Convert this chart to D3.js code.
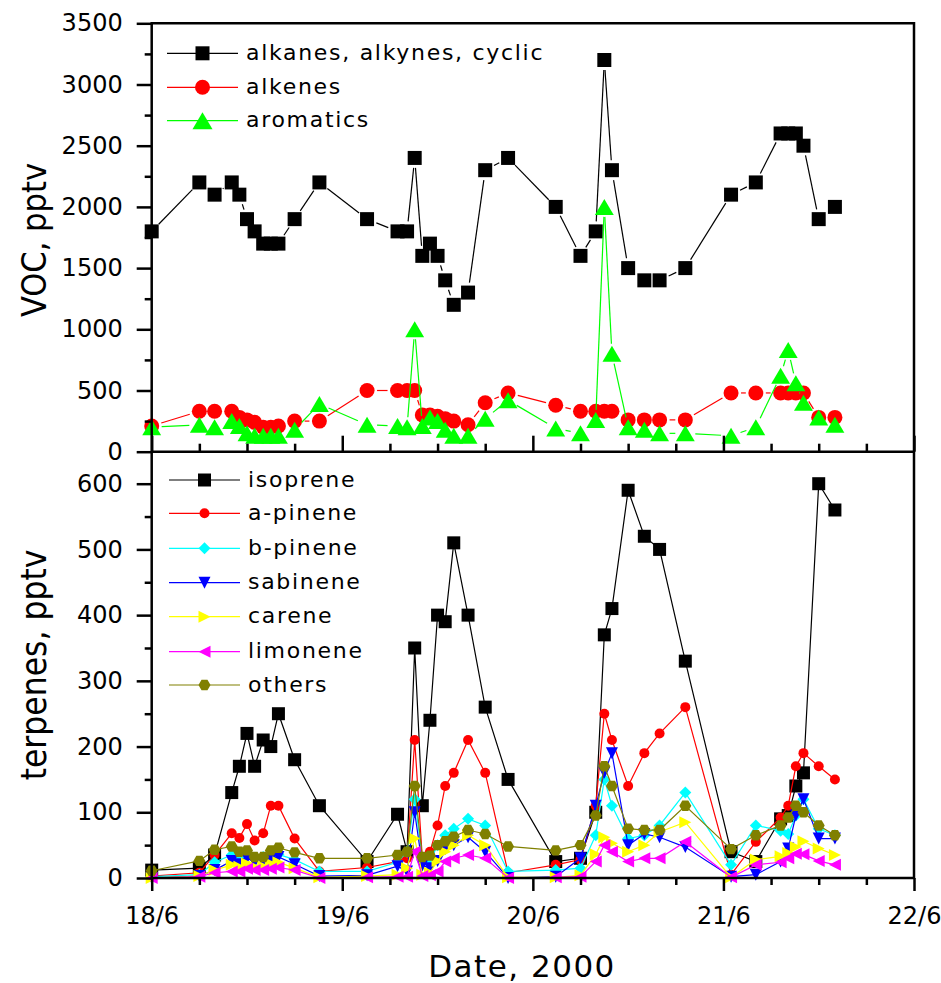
<!DOCTYPE html>
<html><head><meta charset="utf-8">
<script src="https://cdn.jsdelivr.net/npm/d3@7"></script>
<style>body{margin:0;background:#fff} svg{display:block}</style>
</head><body>
<script>
// ---------- data ----------
const days = [18.00, 18.25, 18.33, 18.42, 18.46, 18.50, 18.54, 18.585, 18.625, 18.665, 18.75, 18.88, 19.13, 19.29, 19.34, 19.38, 19.42, 19.46, 19.50, 19.54, 19.585, 19.66, 19.75, 19.87, 20.12, 20.25, 20.33, 20.375, 20.415, 20.50, 20.585, 20.665, 20.80, 21.04, 21.17, 21.30, 21.34, 21.38, 21.42, 21.50, 21.585];

const alkanes   = [1800, 2200, 2100, 2200, 2100, 1900, 1800, 1700, 1700, 1700, 1900, 2200, 1900, 1800, 1800, 2400, 1600, 1700, 1600, 1400, 1200, 1300, 2300, 2400, 2000, 1600, 1800, 3200, 2300, 1500, 1400, 1400, 1500, 2100, 2200, 2600, 2600, 2600, 2500, 1900, 2000];
const alkenes   = [210, 330, 330, 330, 280, 260, 240, 200, 200, 210, 250, 250, 500, 500, 500, 500, 300, 300, 290, 270, 250, 220, 400, 480, 380, 330, 330, 330, 330, 260, 260, 260, 260, 480, 480, 480, 480, 480, 480, 280, 280];
const aromatics = [200, 220, 200, 250, 210, 150, 130, 130, 130, 130, 180, 390, 220, 210, 200, 1000, 210, 280, 250, 180, 130, 130, 270, 420, 190, 150, 260, 2000, 800, 200, 180, 150, 150, 130, 200, 620, 830, 560, 400, 280, 220];

const isoprene = [12, 15, 35, 130, 170, 220, 170, 210, 200, 250, 180, 110, 25, 97, 40, 350, 110, 240, 400, 390, 510, 400, 260, 150, 25, 30, 100, 370, 410, 590, 520, 500, 330, 40, 25, 90, 95, 140, 160, 600, 560];
const aPinene  = [3, 8, 35, 68, 61, 82, 57, 68, 110, 110, 60, 10, 16, 25, 30, 210, 30, 40, 80, 140, 160, 210, 160, 8, 20, 28, 110, 250, 210, 140, 190, 220, 260, 5, 55, 92, 110, 170, 190, 170, 150];
const bPinene  = [2, 5, 24, 35, 30, 36, 30, 32, 36, 36, 28, 10, 10, 24, 40, 120, 30, 25, 50, 65, 75, 90, 80, 10, 12, 15, 65, 150, 110, 60, 65, 80, 130, 20, 80, 72, 67, 95, 120, 75, 65];
const sabinene = [0, 3, 12, 26, 21, 30, 24, 24, 29, 32, 21, 3, 4, 18, 10, 100, 19, 15, 26, 44, 50, 62, 40, 0, 2, 30, 110, 160, 190, 50, 67, 62, 47, 2, 5, 25, 45, 95, 120, 60, 60];
const carene   = [0, 3, 12, 20, 17, 22, 17, 18, 22, 24, 15, 1, 3, 5, 15, 60, 5, 8, 26, 40, 50, 65, 50, 1, 1, 4, 36, 62, 53, 40, 50, 70, 85, 1, 28, 33, 38, 47, 56, 45, 35];
const limonene = [0, 2, 8, 10, 10, 14, 12, 12, 14, 16, 12, 0, 1, 2, 2, 40, 3, 4, 10, 25, 30, 35, 30, 0, 1, 2, 25, 50, 40, 25, 30, 30, 55, 1, 20, 24, 30, 37, 36, 26, 20];
const others   = [11, 26, 43, 48, 40, 42, 32, 32, 42, 46, 39, 30, 30, 35, 40, 140, 32, 34, 50, 56, 63, 73, 67, 48, 42, 50, 95, 170, 140, 75, 73, 73, 110, 44, 65, 80, 92, 110, 100, 80, 65];

const topNames = ["alkanes, alkynes, cyclic", "alkenes", "aromatics"];
const botNames = ["isoprene", "a-pinene", "b-pinene", "sabinene", "carene", "limonene", "others"];
const vocTicks = [0, 500, 1000, 1500, 2000, 2500, 3000, 3500];
const terpTicks = [0, 100, 200, 300, 400, 500, 600];

// ---------- layout ----------
const W = 941, H = 983;
const X0 = 151.7, X1 = 914;
const TOP0 = 23.3, MID = 451.7, BOT = 878;
const tickFont = "'DejaVu Sans', Verdana, sans-serif";

const svg = d3.select("body").append("svg").attr("width", W).attr("height", H);

const toDate = d => new Date(2000, 5, Math.floor(d), 0, 0, 0, Math.round((d - Math.floor(d)) * 86400000));
const x = d3.scaleTime().domain([new Date(2000, 5, 18), new Date(2000, 5, 22)]).range([X0, X1]);
const y1 = d3.scaleLinear().domain([0, 3500]).range([MID, TOP0]);
const y2 = d3.scaleLinear().domain([0, 600]).range([BOT, 483.7]);

// ---------- marker shapes ----------
function shape(type, s) {
  const h = s / 2;
  switch (type) {
    case "square": return `M${-h},${-h}H${h}V${h}H${-h}Z`;
    case "circle": return `M${h},0A${h},${h} 0 1,1 ${-h},0A${h},${h} 0 1,1 ${h},0Z`;
    case "up": { const w = s * 1.18 / 2, t = s / 2; return `M0,${-t}L${w},${t}L${-w},${t}Z`; }
    case "down": return `M${-h},${-h}L${h},${-h}L0,${h}Z`;
    case "right": return `M${-h},${-h}L${h},0L${-h},${h}Z`;
    case "left": return `M${h},${-h}L${-h},0L${h},${h}Z`;
    case "diamond": return `M0,${-h}L${h},0L0,${h}L${-h},0Z`;
    case "hex": {
      let p = [];
      for (let i = 0; i < 6; i++) { const a = Math.PI / 3 * i; p.push([h * Math.cos(a), h * Math.sin(a)]); }
      return "M" + p.map(q => q[0].toFixed(2) + "," + q[1].toFixed(2)).join("L") + "Z";
    }
  }
}

const topSeries = [
  { name: topNames[0], vals: alkanes,   color: "#000000", shape: "square", size: 14 },
  { name: topNames[1], vals: alkenes,   color: "#ff0000", shape: "circle", size: 15 },
  { name: topNames[2], vals: aromatics, color: "#00ff00", shape: "up",     size: 16 }
];
const botSeries = [
  { name: botNames[0], vals: isoprene, color: "#000000", shape: "square",  size: 13 },
  { name: botNames[1], vals: aPinene,  color: "#ff0000", shape: "circle",  size: 10 },
  { name: botNames[2], vals: bPinene,  color: "#00ffff", shape: "diamond", size: 12 },
  { name: botNames[3], vals: sabinene, color: "#0000ff", shape: "down",    size: 12 },
  { name: botNames[4], vals: carene,   color: "#ffff00", shape: "right",   size: 12 },
  { name: botNames[5], vals: limonene, color: "#ff00ff", shape: "left",    size: 12 },
  { name: botNames[6], vals: others,   color: "#808000", shape: "hex",     size: 12 }
];

// ---------- series ----------
const gTop = svg.append("g");
topSeries.forEach(s => {
  const pts = days.map((d, i) => [x(toDate(d)), y1(s.vals[i])]);
  const gap = 10;
  const segs = [];
  for (let i = 0; i < pts.length - 1; i++) {
    const [ax, ay] = pts[i], [bx, by] = pts[i + 1];
    const dx = bx - ax, dy = by - ay, L = Math.hypot(dx, dy);
    if (L > 2 * gap + 1) {
      const ux = dx / L, uy = dy / L;
      segs.push([ax + ux * gap, ay + uy * gap, bx - ux * gap, by - uy * gap]);
    }
  }
  gTop.append("g").selectAll("line").data(segs).join("line")
    .attr("x1", d => d[0]).attr("y1", d => d[1]).attr("x2", d => d[2]).attr("y2", d => d[3])
    .attr("stroke", s.color).attr("stroke-width", 1.2);
  gTop.append("g").selectAll("path").data(pts).join("path")
    .attr("transform", d => `translate(${d[0]},${d[1]})`)
    .attr("d", shape(s.shape, s.size)).attr("fill", s.color);
});

const gBot = svg.append("g");
botSeries.forEach(s => {
  const data = days.map((d, i) => ({ t: toDate(d), v: s.vals[i] }));
  gBot.append("path").datum(data)
    .attr("d", d3.line().x(d => x(d.t)).y(d => y2(d.v)))
    .attr("fill", "none").attr("stroke", s.color).attr("stroke-width", 1.2);
  gBot.append("g").selectAll("path").data(data).join("path")
    .attr("transform", d => `translate(${x(d.t)},${y2(d.v)})`)
    .attr("d", shape(s.shape, s.size)).attr("fill", s.color);
});

// ---------- legends ----------
function legend(series, rows, lx0, lx1, tx) {
  const g = svg.append("g");
  series.forEach((s, i) => {
    const yy = rows[i];
    g.append("line").attr("x1", lx0).attr("x2", lx1).attr("y1", yy).attr("y2", yy)
      .attr("stroke", s.color).attr("stroke-width", 1.2);
    g.append("path").attr("transform", `translate(${(lx0 + lx1) / 2},${yy})`)
      .attr("d", shape(s.shape, s.size + (s.shape === "up" ? 1 : 0))).attr("fill", s.color);
    g.append("text").attr("x", tx).attr("y", yy).attr("dy", "0.3em")
      .attr("font-family", tickFont).attr("font-size", 22).attr("letter-spacing", 1.7)
      .attr("fill", "#000").text(s.name);
  });
}
legend(topSeries, [53.3, 87.3, 120.7], 167, 238, 246);
legend(botSeries, [480, 513.3, 548.3, 582.7, 616.7, 651.7, 685], 169, 240, 248);

// ---------- axes ----------
function styleAxis(g) {
  g.select(".domain").remove();
  g.selectAll(".tick line").attr("stroke", "#000").attr("stroke-width", 2.5);
  g.selectAll(".tick text").attr("font-family", tickFont).attr("font-size", 24).attr("fill", "#000");
}
// top panel y axis
svg.append("g").attr("transform", `translate(${X0},0)`)
  .call(d3.axisLeft(y1).tickValues(vocTicks).tickSize(15).tickPadding(14).tickFormat(d3.format("d"))).call(styleAxis);
svg.append("g").attr("transform", `translate(${X0},0)`)
  .call(d3.axisLeft(y1).tickValues(vocTicks.slice(0, -1).map(v => v + 250)).tickSize(7).tickFormat("")).call(styleAxis);
// bottom panel y axis
svg.append("g").attr("transform", `translate(${X0},0)`)
  .call(d3.axisLeft(y2).tickValues(terpTicks).tickSize(15).tickPadding(14).tickFormat(d3.format("d"))).call(styleAxis);
svg.append("g").attr("transform", `translate(${X0},0)`)
  .call(d3.axisLeft(y2).tickValues(terpTicks.slice(0, -1).map(v => v + 50)).tickSize(7).tickFormat("")).call(styleAxis);

const dayTicks = x.ticks(d3.timeDay.every(1));
const minorX = x.ticks(d3.timeHour.every(6)).filter(d => d.getHours() !== 0);
// top panel x axis (ticks inward, no labels)
svg.append("g").attr("transform", `translate(0,${MID})`)
  .call(d3.axisTop(x).tickValues(dayTicks).tickSize(16).tickFormat("")).call(styleAxis);
svg.append("g").attr("transform", `translate(0,${MID})`)
  .call(d3.axisTop(x).tickValues(minorX).tickSize(8).tickFormat("")).call(styleAxis);
// bottom panel x axis
svg.append("g").attr("transform", `translate(0,${BOT})`)
  .call(d3.axisBottom(x).tickValues(dayTicks).tickSize(13).tickPadding(16)
    .tickFormat(d => `${d.getDate()}/${d.getMonth() + 1}`)).call(styleAxis);
svg.append("g").attr("transform", `translate(0,${BOT})`)
  .call(d3.axisBottom(x).tickValues(minorX).tickSize(7).tickFormat("")).call(styleAxis);

// frame
const frame = svg.append("g").attr("stroke", "#000").attr("stroke-width", 2.5).attr("fill", "none");
frame.append("path").attr("d", `M${X0},${BOT}V${TOP0}H${X1}V${BOT}H${X0}`).attr("stroke-linecap", "square");
frame.append("line").attr("x1", X0).attr("x2", X1).attr("y1", MID).attr("y2", MID);

// titles
const titleFont = "'DejaVu Sans Condensed', 'Liberation Sans Narrow', Roboto, sans-serif";
svg.append("text").attr("transform", `translate(46,240) rotate(-90)`).attr("text-anchor", "middle")
  .attr("font-family", titleFont).attr("font-size", 34).attr("fill", "#000").text("VOC, pptv");
svg.append("text").attr("transform", `translate(46,665) rotate(-90)`).attr("text-anchor", "middle")
  .attr("font-family", titleFont).attr("font-size", 35).attr("fill", "#000").text("terpenes, pptv");
svg.append("text").attr("x", 522).attr("y", 977).attr("text-anchor", "middle")
  .attr("font-family", tickFont).attr("font-size", 31).attr("letter-spacing", 1.5)
  .attr("fill", "#000").text("Date, 2000");
</script>
</body></html>
